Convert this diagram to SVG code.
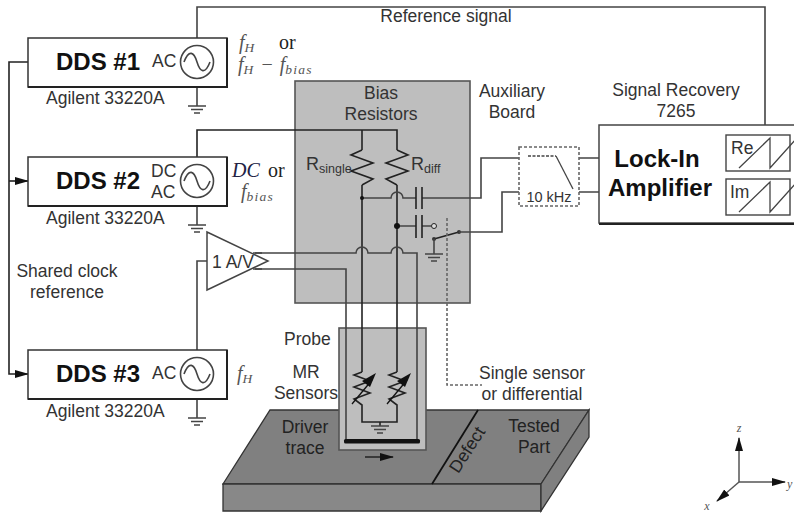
<svg xmlns="http://www.w3.org/2000/svg" width="794" height="513" viewBox="0 0 794 513">
<style>
text{font-family:"Liberation Sans",Arial,sans-serif;fill:#333;font-size:17.500px}
.c{text-anchor:middle}
.b{font-weight:bold;fill:#111;font-size:24px}
.m{font-family:"Liberation Serif","DejaVu Serif",serif;font-style:italic;fill:#555}
.s{font-size:13.500px;letter-spacing:1.200px}
.o{font-family:"Liberation Serif",serif;font-size:20px;fill:#222}
.w,.wd{fill:none;stroke:#444;stroke-width:1.6}
.wd{stroke:#222}
.box{fill:#fff;stroke:#333;stroke-width:1.5}
.sh{fill:none;stroke:#222;stroke-width:2}
.dash{fill:none;stroke:#666;stroke-width:1.6;stroke-dasharray:3 2}
.gnd{fill:none;stroke:#444;stroke-width:1.4}
.src{fill:#fff;stroke:#444;stroke-width:1.6}
</style>
<defs>
<marker id="a" markerWidth="14" markerHeight="10" refX="13" refY="5" orient="auto" markerUnits="userSpaceOnUse"><path d="M0 1L14 5L0 9z" fill="#111"/></marker>
<g id="ground"><path class="gnd" d="M-9 0H9M-6 3.500H6M-3 7H3"/></g>
<g id="source"><circle class="src" r="16.500"/><path class="w" d="M-13 0C-8 -13 -3 -10 0 0C3 10 8 13 13 0"/></g>
<g id="saw"><path fill="none" stroke="#444" stroke-width="1.300" d="M6 33L37 3V33L64 3V33"/></g>
</defs>

<g id="panel-board"><rect x="295" y="81" width="175" height="222" fill="#bebebe" stroke="#555" stroke-width="1.600"/></g>
<g id="part">
<path d="M270 410H589L541 484H223z" fill="#808080" stroke="#333" stroke-width="1.300"/>
<path d="M223 484H541V511H223z" fill="#888" stroke="#333" stroke-width="1.300"/>
<path d="M541 484L589 410V437L541 511z" fill="#808080" stroke="#333" stroke-width="1.300"/>
<path d="M478 410L432 484" stroke="#111" stroke-width="1.800"/>
<text class="c" x="305" y="433" style="fill:#222">Driver</text><text class="c" x="305" y="454" style="fill:#222">trace</text>
<text class="c" x="534" y="432" style="fill:#222">Tested</text><text class="c" x="534" y="453" style="fill:#222">Part</text>
<text class="c" transform="translate(472,453) rotate(-57)" style="fill:#222">Defect</text>
<path d="M365 457H393" stroke="#222" stroke-width="1.500" marker-end="url(#a)"/>
</g>
<g id="panel-probe"><rect x="339" y="328" width="87" height="122" fill="#bebebe" stroke="#555" stroke-width="1.600"/></g>

<g id="connectors">
<path class="w" d="M197 46V7H765V125"/>
<path class="wd" d="M197 165V130H397V150"/>
<path class="wd" d="M362 130V150"/>
<path class="wd" d="M362 185V372M397 185V372"/>
<path class="wd" d="M362 150l-11 5 22 8 -22 8 22 8 -11 6"/>
<path class="wd" d="M397 150l11 5 -22 8 22 8 -22 8 11 6"/>
<path class="w" d="M362 198H391a6 6 0 0 1 12 0H416M422 198H481V158H519"/>
<path class="wd" d="M416 187V209M422 187V209"/>
<circle cx="362" cy="198" r="2" fill="#111"/>
<path class="w" d="M397 226H416M422 226H431"/>
<path class="wd" d="M416 215V238M422 215V238"/>
<circle cx="397" cy="226" r="3" fill="#111"/>
<circle cx="434" cy="226" r="2.500" fill="#ddd" stroke="#222"/>
<path class="wd" d="M434 239L459 232"/>
<circle cx="434" cy="239" r="2" fill="#333"/><circle cx="459" cy="232" r="2" fill="#333"/>
<path class="w" d="M434 239V254M459 232H502V192H519"/>
<use href="#ground" x="434" y="254"/>
<path class="w" d="M579 158H599M579 192H599"/>
<path class="w" d="M255 253H356a6 6 0 0 1 12 0H391a6 6 0 0 1 12 0H417V441"/>
<path class="w" d="M255 269H346V441"/>
<path class="w" d="M197 350V261H208"/>
<path class="dash" d="M447 218V385H482"/>
<path class="wd" d="M28 62H9V374H28" marker-end="url(#a)"/>
<path class="wd" d="M9 181H28" marker-end="url(#a)"/>
<path class="w" d="M197 78V106M197 197V225M197 390V418"/>
<use href="#ground" x="197" y="106"/><use href="#ground" x="197" y="225"/><use href="#ground" x="197" y="418"/>
</g>

<g id="dds1"><rect class="box" x="28" y="38" width="199" height="49"/><path class="sh" d="M28 87H227V38"/>
<text class="b" x="56" y="70">DDS #1</text><text x="152" y="67">AC</text><use href="#source" x="197" y="62"/>
<text x="46" y="104">Agilent 33220A</text></g>
<g id="dds2"><rect class="box" x="28" y="157" width="199" height="49"/><path class="sh" d="M28 206H227V157"/>
<text class="b" x="56" y="189">DDS #2</text><text x="151" y="177">DC</text><text x="151" y="198">AC</text><use href="#source" x="197" y="181"/>
<text x="46" y="224">Agilent 33220A</text></g>
<g id="dds3"><rect class="box" x="28" y="350" width="199" height="49"/><path class="sh" d="M28 399H227V350"/>
<text class="b" x="56" y="382">DDS #3</text><text x="152" y="379">AC</text><use href="#source" x="197" y="374"/>
<text x="46" y="417">Agilent 33220A</text></g>

<g id="amp"><path d="M207 232L268 261L207 290z" fill="#fff" stroke="#444" stroke-width="1.500"/>
<path class="w" d="M253 253H262M253 269H262"/>
<text x="212" y="268">1 A/V</text></g>

<g id="filter"><rect class="dash" x="519" y="147" width="60" height="59"/>
<path d="M528 156H556" fill="none" stroke="#444" stroke-width="1.300" stroke-dasharray="3 1.500"/>
<path d="M556 156L573 189" fill="none" stroke="#444" stroke-width="1.300"/>
<text class="c" x="549" y="202" style="font-size:14.500px">10 kHz</text></g>

<g id="lockin"><path d="M794 125H599V223H794" fill="#fff" stroke="#444" stroke-width="1.500"/>
<path class="sh" d="M599 224H794"/>
<text class="c b" x="657" y="167">Lock-In</text><text class="c b" x="660" y="196">Amplifier</text>
<g id="re"><rect x="726" y="135" width="64" height="36" fill="#fff" stroke="#444" stroke-width="1.400"/><use href="#saw" x="733" y="135"/><text x="731" y="154">Re</text></g>
<g id="im"><rect x="726" y="179" width="64" height="36" fill="#fff" stroke="#444" stroke-width="1.400"/><use href="#saw" x="733" y="179"/><text x="730" y="198">Im</text></g>
</g>

<g id="sensors">
<path class="wd" d="M362 372l-8 3 16 6 -16 6 16 6 -16 6 8 6V422H397V405l-8 -6 16 -6 -16 -6 16 -6 -16 -6 8 -3"/>
<path d="M352 404L372 380" stroke="#111" stroke-width="1.300"/><path d="M376 373L362 381L370 387z" fill="#111"/>
<path d="M387 404L407 380" stroke="#111" stroke-width="1.300"/><path d="M411 373L397 381L405 387z" fill="#111"/>
<path class="wd" d="M380 422V426"/><use href="#ground" x="380" y="426"/>
<rect x="344" y="439" width="76" height="4.500" rx="1.500" fill="#111"/>
</g>

<g id="labels">
<text class="c" x="446" y="22">Reference signal</text>
<text class="c" x="381" y="99">Bias</text><text class="c" x="381" y="120">Resistors</text>
<text class="c" x="512" y="97">Auxiliary</text><text class="c" x="512" y="118">Board</text>
<text class="c" x="676" y="96">Signal Recovery</text><text class="c" x="676" y="117">7265</text>
<text x="306" y="170" style="font-size:18px">R<tspan dy="3" style="font-size:12.500px">single</tspan></text>
<text x="411" y="170" style="font-size:18px">R<tspan dy="3" style="font-size:12.500px">diff</tspan></text>
<text class="c" x="67" y="277">Shared clock</text><text class="c" x="67" y="298">reference</text>
<text x="284" y="345">Probe</text>
<text class="c" x="306" y="378">MR</text><text class="c" x="306" y="399">Sensors</text>
<text class="c" x="532" y="379">Single sensor</text><text class="c" x="532" y="400">or differential</text>
<text class="m" x="239" y="49" style="font-size:20px">f<tspan class="s" dy="3">H</tspan></text>
<text class="o" x="279" y="49">or</text>
<text class="m" x="238" y="71" style="font-size:20px">f<tspan class="s" dy="3">H</tspan><tspan dy="-3" dx="7" style="font-style:normal">−</tspan><tspan dx="7">f</tspan><tspan class="s" dy="3">bias</tspan></text>
<text x="232" y="177" style="font-family:'Liberation Serif',serif;font-size:20px;font-style:italic;fill:#224">DC</text>
<text class="o" x="268" y="177">or</text>
<text class="m" x="241" y="198" style="font-size:20px">f<tspan class="s" dy="3">bias</tspan></text>
<text class="m" x="237" y="380" style="font-size:20px">f<tspan class="s" dy="3">H</tspan></text>
</g>

<g id="axes">
<path d="M739 482V438" stroke="#555" stroke-width="1.500" marker-end="url(#a)"/>
<path d="M739 482H785" stroke="#555" stroke-width="1.500" marker-end="url(#a)"/>
<path d="M739 482L717 501" stroke="#555" stroke-width="1.500" marker-end="url(#a)"/>
<text class="m c" x="739" y="432" style="font-size:12px">z</text>
<text class="m" x="787" y="488" style="font-size:12px">y</text>
<text class="m c" x="707" y="510" style="font-size:12px">x</text>
</g>
</svg>
